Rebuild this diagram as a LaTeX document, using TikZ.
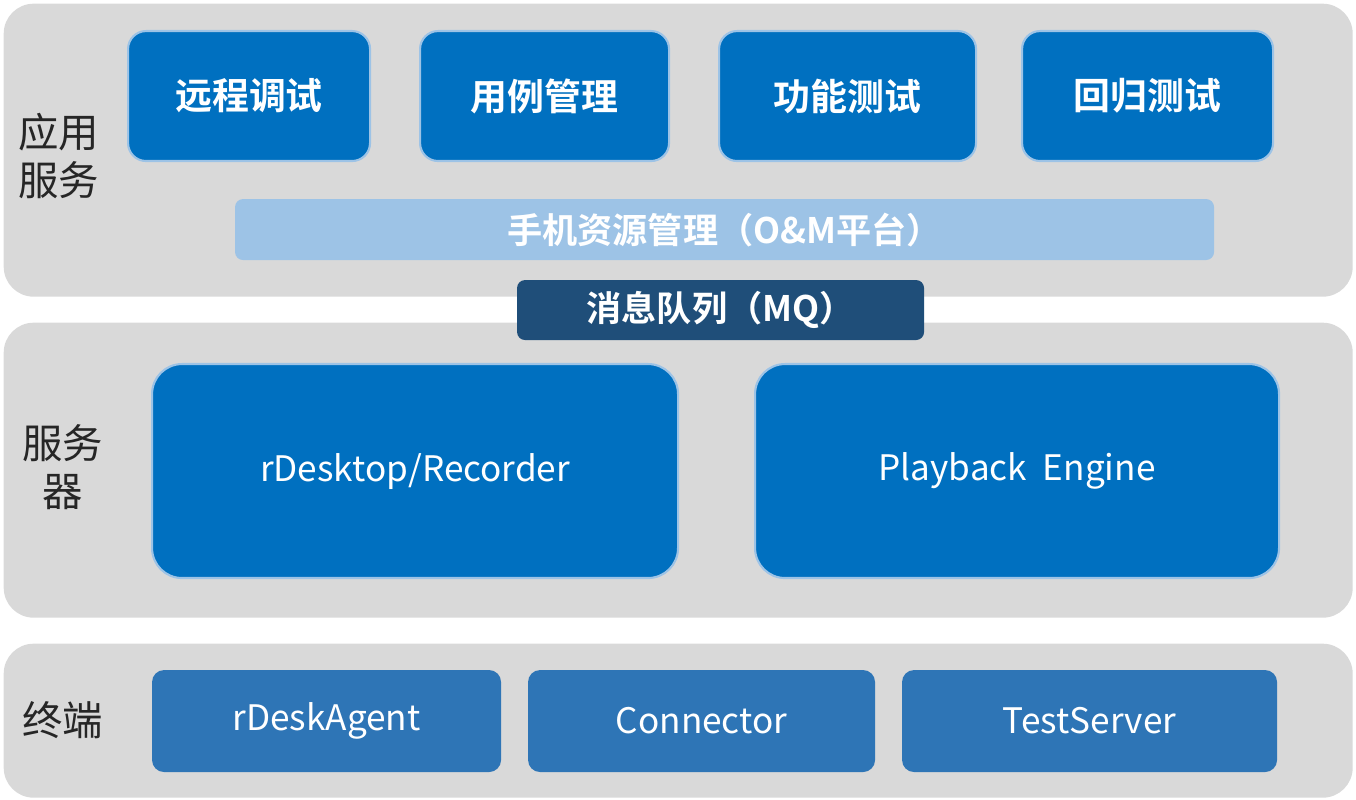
\documentclass[tikz,border=0pt]{standalone}
\usepackage{fontspec}
\setmainfont{Noto Sans CJK SC}[BoldFont={* Bold}]
\usetikzlibrary{positioning}
\definecolor{band}{HTML}{D9D9D9}
\definecolor{mid}{HTML}{0070C0}
\definecolor{low}{HTML}{2E75B6}
\definecolor{light}{HTML}{9DC3E6}
\definecolor{dark}{HTML}{1F4E79}
\tikzset{
  layer/.style={draw=none, fill=band, rounded corners=0.3cm, anchor=north west, inner sep=0pt},
  box/.style={draw=light, line width=0.6pt, fill=mid, rounded corners=0.18cm, text=white, font=\bfseries\fontsize{10.5}{12}\selectfont, anchor=north west, inner sep=0pt},
  title/.style={text=black!85, font=\fontsize{11.5}{13.5}\selectfont, align=center, inner sep=0pt}
}
\begin{document}
\begin{tikzpicture}
  \useasboundingbox (0,0) rectangle (13.56,8);
  % layers
  \node[layer, minimum width=13.49cm, minimum height=2.93cm] (app) at (0.03,7.97) {};
  \node[layer, minimum width=13.49cm, minimum height=2.95cm] (srv) at (0.03,4.78) {};
  \node[layer, minimum width=13.49cm, minimum height=1.54cm] (term) at (0.03,1.57) {};
  % application services
  \node[box, minimum width=2.42cm, minimum height=1.30cm] (remote) at (1.27,7.70) {远程调试};
  \node[box, minimum width=2.49cm, minimum height=1.30cm] (cases) at (4.19,7.70) {用例管理};
  \node[box, minimum width=2.57cm, minimum height=1.30cm] (func) at (7.18,7.70) {功能测试};
  \node[box, minimum width=2.51cm, minimum height=1.30cm] (regr) at (10.21,7.70) {回归测试};
  \node[box, draw=none, fill=light, rounded corners=0.08cm, minimum width=9.79cm, minimum height=0.61cm, font=\bfseries\fontsize{10}{12}\selectfont] (om) at (2.34,6.02) {手机资源管理（O\&M平台）};
  \node[box, draw=none, fill=dark, rounded corners=0.08cm, minimum width=4.07cm, minimum height=0.60cm, font=\bfseries\fontsize{10}{12}\selectfont] (mq) at (5.16,5.21) {消息队列（MQ）};
  % server
  \node[box, minimum width=5.26cm, minimum height=2.14cm, rounded corners=0.3cm, font=\fontsize{10}{12}\selectfont] (rec) at (1.51,4.37) {rDesktop/Recorder};
  \node[box, minimum width=5.24cm, minimum height=2.14cm, rounded corners=0.3cm, font=\fontsize{10}{12}\selectfont] (play) at (7.54,4.37) {Playback\ \ Engine};
  % terminal
  \node[box, draw=none, fill=low, rounded corners=0.12cm, minimum width=3.49cm, minimum height=1.02cm, font=\fontsize{10}{12}\selectfont] (agent) at (1.51,1.31) {rDeskAgent};
  \node[box, draw=none, fill=low, rounded corners=0.12cm, minimum width=3.47cm, minimum height=1.02cm, font=\fontsize{10}{12}\selectfont] (conn) at (5.27,1.31) {Connector};
  \node[box, draw=none, fill=low, rounded corners=0.12cm, minimum width=3.75cm, minimum height=1.02cm, font=\fontsize{10}{12}\selectfont] (test) at (9.01,1.31) {TestServer};
  % layer titles
  \node[title] (appt) at (0.59,6.44) {应用\\服务};
  \node[title] (srvt) at (0.63,3.33) {服务\\器};
  \node[title] (termt) at (0.63,0.80) {终端};
\end{tikzpicture}
\end{document}
